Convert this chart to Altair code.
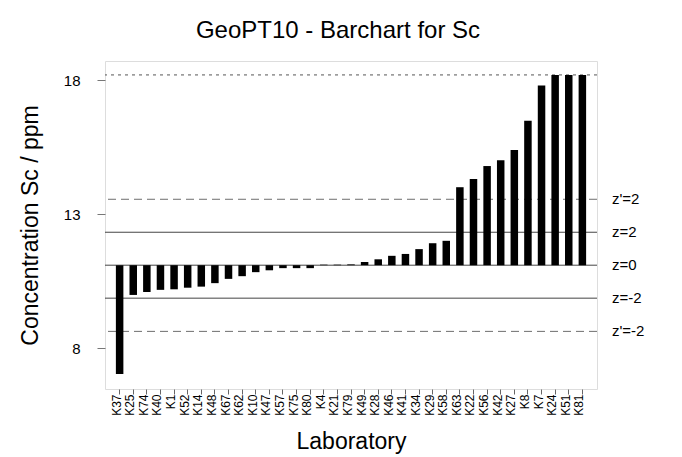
import altair as alt
import pandas as pd

labs = ["K37", "K25", "K74", "K40", "K1", "K52", "K14", "K48", "K67", "K62",
        "K10", "K47", "K57", "K75", "K80", "K4", "K21", "K79", "K49", "K28",
        "K46", "K41", "K34", "K29", "K58", "K63", "K22", "K56", "K42", "K27",
        "K8", "K7", "K24", "K51", "K81"]
vals = [7.04, 9.99, 10.10, 10.18, 10.20, 10.26, 10.30, 10.43, 10.59, 10.69,
        10.84, 10.91, 10.99, 10.99, 10.99, 11.12, 11.12, 11.13, 11.22, 11.32,
        11.45, 11.52, 11.70, 11.92, 12.01, 14.01, 14.32, 14.80, 15.02, 15.40,
        16.49, 17.81, 18.20, 18.20, 18.20]

center = 11.10
z_vals = [13.56, 12.33, 11.10, 9.87, 8.63]
z_labels = ["z'=2", "z=2", "z=0", "z=-2", "z'=-2"]
z_kind = ["zp", "z", "z", "z", "zp"]
upper_limit = 18.20

y_domain = [6.48, 18.72]
y_ticks = [8, 13, 18]

W, H = 492, 328
FONT = "Liberation Sans"

bars_df = pd.DataFrame({"lab": labs, "val": vals, "base": [center] * len(labs)})
z_df = pd.DataFrame({"v": z_vals, "label": z_labels, "kind": z_kind})
lim_df = pd.DataFrame({"v": [upper_limit]})

yscale = alt.Scale(domain=y_domain, nice=False, zero=False)

x_enc = alt.X("lab:N", sort=labs,
              scale=alt.Scale(paddingInner=0.45, paddingOuter=0.8),
              axis=alt.Axis(title="Laboratory", labelAngle=-90, labelFontSize=12,
                            labelColor="black", tickSize=5, tickColor="#666",
                            labelPadding=0, labelOffset=-3, domain=False,
                            titleFontSize=23, titleFontWeight="normal",
                            titleY=52, titleBaseline="middle", labelFont=FONT,
                            titleFont=FONT, titleColor="black"))

y_axis = alt.Axis(title="Concentration Sc / ppm", values=y_ticks, format="d",
                  labelFontSize=15, labelColor="black", tickSize=8,
                  tickColor="#777", labelPadding=17, domain=False, grid=False,
                  titleFontSize=23, titleFontWeight="normal", titleX=-75,
                  titleY=H / 2, titleAlign="center",
                  titleBaseline="middle", labelFont=FONT, titleFont=FONT,
                  titleColor="black")

bars = alt.Chart(bars_df).mark_bar(color="black", width=7.5).encode(
    x=x_enc,
    y=alt.Y("val:Q", scale=yscale, axis=y_axis),
    y2="base:Q",
)

solid = alt.Chart(z_df).transform_filter(alt.datum.kind == "z").mark_rule(
    color="#444", strokeWidth=1).encode(y=alt.Y("v:Q", scale=yscale))

dashed = alt.Chart(z_df).transform_filter(alt.datum.kind == "zp").mark_rule(
    color="#6e6e6e", strokeWidth=1, strokeDash=[8, 5]).encode(y=alt.Y("v:Q", scale=yscale))

dotted = alt.Chart(lim_df).mark_rule(
    color="#555", strokeWidth=1, strokeDash=[3, 4]).encode(y=alt.Y("v:Q", scale=yscale))

ztext = alt.Chart(z_df).mark_text(
    align="left", baseline="middle", fontSize=15, font=FONT, color="black"
).encode(x=alt.value(W + 15), y=alt.Y("v:Q", scale=yscale), text="label:N")

chart = alt.layer(solid, dashed, dotted, bars, ztext).properties(
    width=W, height=H,
    title=alt.Title("GeoPT10 - Barchart for Sc", fontSize=24, font=FONT,
                    fontWeight="normal", color="black", offset=18, anchor="middle",
                    dx=-13),
    autosize=alt.AutoSizeParams(type="none"),
    padding={"left": 97, "top": 53, "right": 77, "bottom": 66},
).configure_view(stroke="#888", strokeWidth=1).configure(background="white")

chart.save("out.html", embed_options={"renderer": "svg", "actions": False})
